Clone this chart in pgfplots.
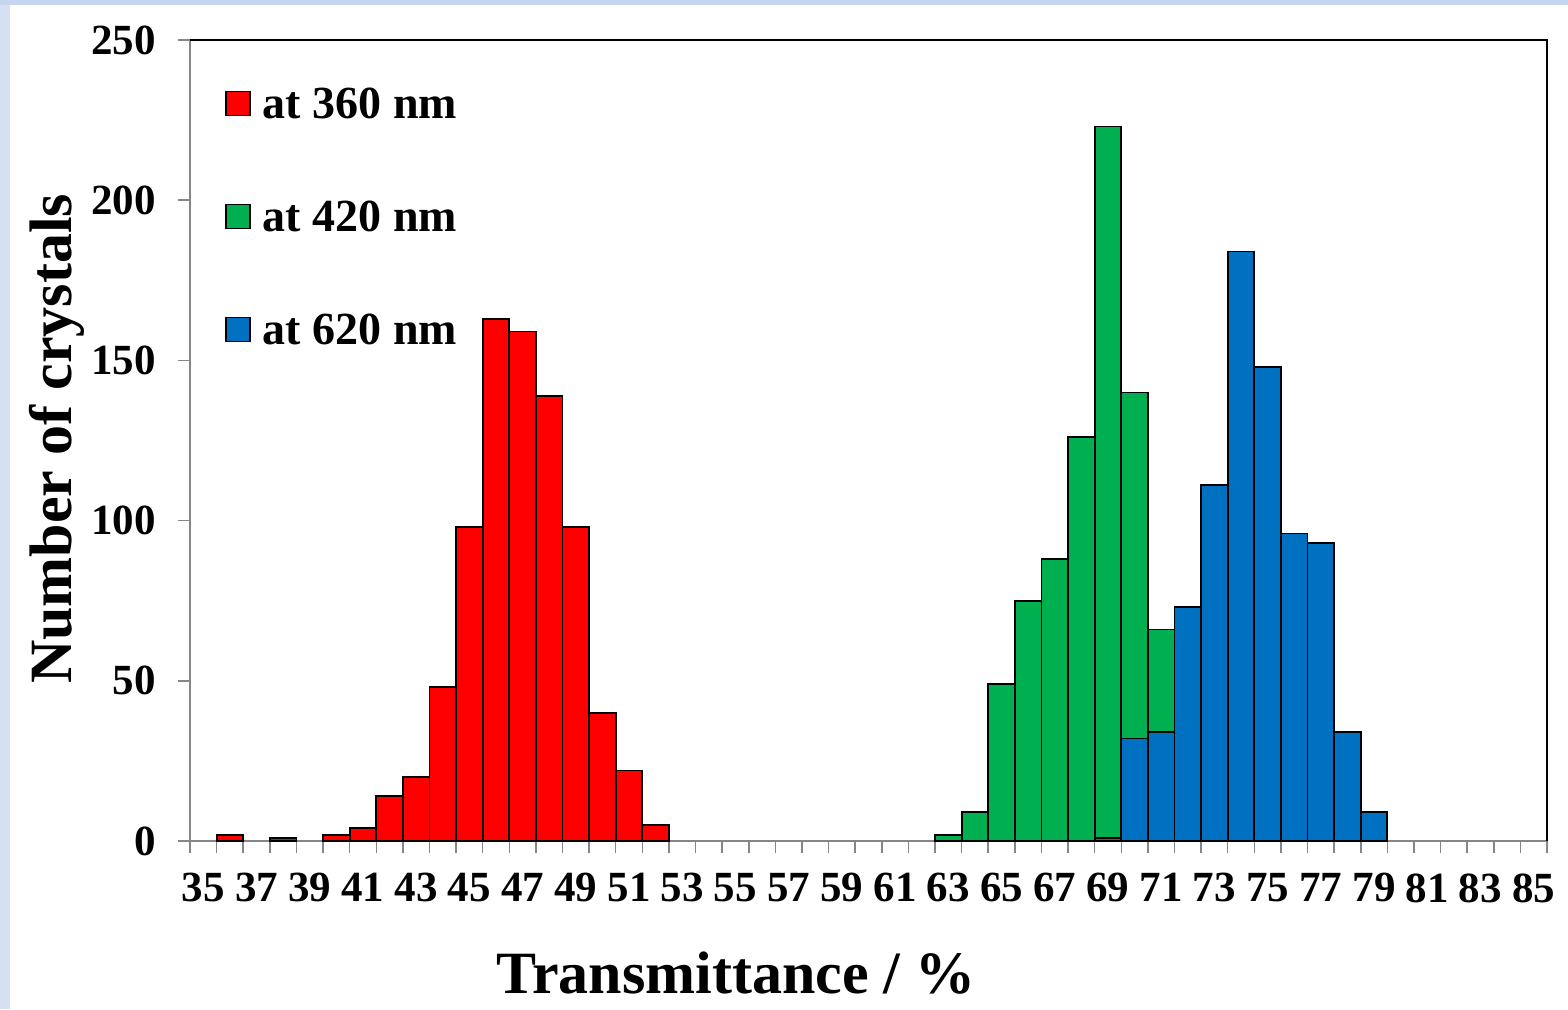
\documentclass[border=0pt]{standalone}
\usepackage{fontspec}
\setmainfont{Liberation Serif}
\usepackage{pgfplots}
\pgfplotsset{compat=1.18}

\definecolor{barred}{HTML}{FF0000}
\definecolor{bargreen}{HTML}{00B050}
\definecolor{barblue}{HTML}{0070C0}
\definecolor{bandleft}{HTML}{D5E0F2}
\definecolor{bandtop}{HTML}{C6D5EE}
\definecolor{axisgray}{HTML}{868686}

\begin{document}
\begin{tikzpicture}
% slide background (1px = 0.5pt)
\fill[white] (0pt,0pt) rectangle (784pt,504.5pt);
\fill[bandleft] (0pt,0pt) rectangle (5pt,504.5pt);
\fill[bandtop] (0pt,502pt) rectangle (784pt,504.5pt);

\begin{axis}[
    at={(95pt,84pt)}, anchor=south west,
    scale only axis, width=678.5pt, height=400.5pt,
    xmin=34.5, xmax=85.5,
    ymin=0, ymax=250,
    ytick={0,50,100,150,200,250},
    xtick={34.5,35.5,...,85.5},
    xticklabels={},
    extra x ticks={35,37,...,85},
    extra x tick labels={35,37,39,41,43,45,47,49,51,53,55,57,59,61,63,65,67,69,71,73,75,77,79,81,83,85},
    extra x tick style={major tick length=0pt},
    xtick pos=bottom, ytick pos=left,
    tick align=outside,
    major tick length=6pt,
    tick style={axisgray, line width=0.75pt},
    axis line style={axisgray, line width=0.75pt},
    /pgf/number format/assume math mode=true,
    ticklabel style={font=\fontsize{21.5}{25}\selectfont\bfseries},
    xticklabel style={inner sep=0pt, anchor=north, yshift=-16pt},
    yticklabel style={inner sep=0pt, anchor=east, xshift=-11pt},
    xlabel={Transmittance / \%},
    ylabel={Number of crystals},
    label style={font=\fontsize{30}{36}\selectfont\bfseries, inner sep=0pt},
    xlabel style={at={(axis description cs:0.4024,-0.1898)}, anchor=base},
    ylabel style={at={(axis description cs:-0.087,0.502)}, anchor=base},
    ybar, bar width=1,
    every axis plot/.append style={bar shift=0pt, draw=black, line width=0.9pt},
    every axis plot post/.append style={legend image code/.code={
        \draw[##1, line width=0.75pt, draw=black] (0pt,-6.5pt) rectangle (12pt,5.5pt);}},
    legend cell align=left,
    legend style={at={(axis description cs:0,1)}, anchor=north west,
        xshift=17.5pt, yshift=-23pt, draw=none, fill=none, inner sep=0pt,
        row sep=40.5pt, column sep=6pt,
        font=\fontsize{23}{27}\selectfont\bfseries,
        nodes={inner sep=0pt, text height=16pt, text depth=0pt}},
    after end axis/.code={
        \draw[black, line width=0.9pt] (rel axis cs:0,1) -- (rel axis cs:1,1) -- (rel axis cs:1,0);
    },
]

\addplot[fill=barred, bar shift=0pt] coordinates {
    (36,2) (38,1) (40,2) (41,4) (42,14) (43,20) (44,48) (45,98)
    (46,163) (47,159) (48,139) (49,98) (50,40) (51,22) (52,5)
};
\addlegendentry{at 360 nm}

\addplot[fill=bargreen, bar shift=0pt] coordinates {
    (63,2) (64,9) (65,49) (66,75) (67,88) (68,126) (69,223) (70,140) (71,66)
};
\addlegendentry{at 420 nm}

\addplot[fill=barblue, bar shift=0pt] coordinates {
    (69,1) (70,32) (71,34) (72,73) (73,111) (74,184) (75,148) (76,96)
    (77,93) (78,34) (79,9)
};
\addlegendentry{at 620 nm}

\end{axis}
\end{tikzpicture}
\end{document}
